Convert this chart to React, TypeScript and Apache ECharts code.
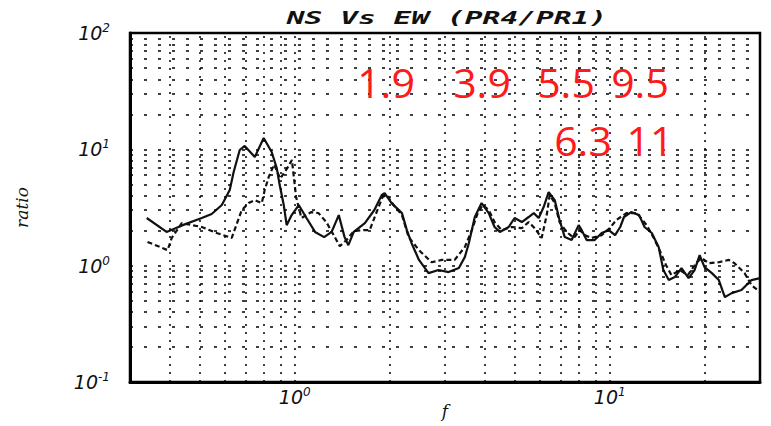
import React, { useEffect, useRef } from "react";
import * as echarts from "echarts";

// NS component spectral ratio (solid)
const nsFreq = [
  0.339, 0.392, 0.441, 0.507, 0.545, 0.587, 0.622, 0.64, 0.669, 0.694, 0.747, 0.797,
  0.845, 0.877, 0.896, 0.923, 0.943, 0.978, 1.03, 1.09, 1.16, 1.24, 1.31, 1.38, 1.44,
  1.48, 1.54, 1.67, 1.79, 1.89, 1.93, 2.03, 2.19, 2.27, 2.35, 2.48, 2.66, 2.86, 3.08,
  3.32, 3.47, 3.57, 3.73, 3.92, 4.13, 4.31, 4.48, 4.78, 4.99, 5.26, 5.53, 5.74, 5.95,
  6.17, 6.4, 6.69, 6.93, 7.2, 7.57, 7.97, 8.15, 8.45, 8.96, 9.43, 9.93, 10.4, 10.8,
  11.1, 11.7, 12.4, 12.9, 13.6, 14.3, 14.8, 15.4, 16.1, 16.9, 17.8, 18.6, 19.3, 20.0,
  21.1, 22.2, 23.2, 24.4, 26.2, 28.2, 30,
];
const nsRatio = [
  2.57, 1.95, 2.23, 2.57, 2.78, 3.32, 4.47, 6.38, 9.87, 10.7, 8.59, 12.5, 9.48, 6.9,
  4.93, 3.32, 2.23, 2.72, 3.32, 2.57, 1.95, 1.76, 1.95, 2.72, 1.76, 1.5, 1.95, 2.32,
  3.01, 4.05, 4.21, 3.45, 2.83, 2.02, 1.56, 1.12, 0.863, 0.917, 0.881, 0.954, 1.19,
  1.56, 2.62, 3.45, 2.83, 2.15, 1.95, 2.15, 2.57, 2.37, 2.62, 2.83, 2.57, 3.19, 4.29,
  3.66, 2.47, 1.76, 1.66, 2.23, 2.02, 1.66, 1.66, 1.91, 2.02, 1.83, 2.15, 2.62, 2.89,
  2.72, 2.15, 1.91, 1.45, 0.917, 0.752, 0.798, 0.954, 0.782, 0.917, 1.23, 0.973,
  0.863, 0.752, 0.537, 0.581, 0.617, 0.752, 0.782,
];

// EW component spectral ratio (dashed)
const ewFreq = [
  0.341, 0.395, 0.407, 0.438, 0.507, 0.565, 0.631, 0.679, 0.714, 0.747, 0.786, 0.803,
  0.827, 0.86, 0.9, 0.95, 0.98, 1.01, 1.05, 1.13, 1.19, 1.26, 1.33, 1.39, 1.46, 1.54,
  1.63, 1.73, 1.82, 1.9, 1.96, 2.06, 2.19, 2.3, 2.48, 2.72, 2.93, 3.22, 3.47, 3.65,
  3.81, 3.95, 4.13, 4.31, 4.54, 4.89, 5.26, 5.53, 5.78, 6.08, 6.31, 6.45, 6.69, 6.93,
  7.3, 7.69, 8.04, 8.33, 8.77, 9.43, 10.0, 10.5, 11.3, 12.2, 13.1, 13.8, 14.4, 15.1,
  15.7, 16.7, 17.7, 18.9, 19.6, 20.6, 22.2, 23.9, 24.9, 26.8, 28.2, 30,
];
const ewRatio = [
  1.6, 1.36, 1.73, 2.32, 2.15, 1.91, 1.73, 3.01, 3.45, 3.66, 3.45, 4.47, 5.78, 7.4,
  5.6, 7.0, 8.1, 3.9, 2.57, 2.89, 2.83, 2.37, 1.83, 1.47, 1.66, 1.98, 2.02, 2.02, 2.89,
  3.89, 4.05, 3.32, 2.72, 1.76, 1.36, 1.07, 1.12, 1.12, 1.45, 2.02, 2.83, 3.32, 3.01,
  2.37, 2.02, 2.15, 2.1, 2.37, 2.1, 1.73, 2.72, 4.05, 3.45, 2.37, 1.95, 1.73, 2.02,
  1.83, 1.73, 1.83, 2.1, 2.47, 2.83, 2.83, 2.23, 1.73, 1.36, 1.01, 0.83, 0.917, 0.83,
  1.07, 1.16, 1.05, 1.07, 1.12, 1.05, 0.863, 0.68, 0.593,
];

// Log grid values (2..9 of every decade)
const xGridValues = [0.4, 0.5, 0.6, 0.7, 0.8, 0.9, 1, 2, 3, 4, 5, 6, 7, 8, 9, 10, 20];
const yGridValues = [
  0.2, 0.3, 0.4, 0.5, 0.6, 0.7, 0.8, 0.9, 1, 2, 3, 4, 5, 6, 7, 8, 9, 10, 20, 30, 40, 50,
  60, 70, 80, 90,
];

// Peak frequency annotations
const peakRowTop = ["1.9", "3.9", "5.5", "9.5"];
const peakRowBottom = ["6.3", "11"];

const titleText = "NS Vs EW (PR4/PR1)";

const pairs = (xs: number[], ys: number[]) => xs.map((x, i) => [x, ys[i]]);

const powerLabel = (v: number) => {
  const l = Math.log10(v);
  const e = Math.round(l);
  if (Math.abs(l - e) > 1e-6) return "";
  return `{b|10}{s|${e}}`;
};

const labelRich = {
  b: {
    fontFamily: "DejaVu Sans",
    fontStyle: "italic",
    fontSize: 19,
    color: "#111",
    lineHeight: 22,
  },
  s: {
    fontFamily: "DejaVu Sans",
    fontStyle: "italic",
    fontSize: 12,
    color: "#111",
    verticalAlign: "top",
    lineHeight: 12,
  },
};

export default function App() {
  const ref = useRef<HTMLDivElement>(null);

  useEffect(() => {
    if (!ref.current) return;
    const chart = echarts.init(ref.current, undefined, { renderer: "svg" });

    const gridLines = [
      ...xGridValues.map((v) => ({
        xAxis: v,
        lineStyle: { type: [2, 6], color: "#000", width: 1.5 },
      })),
      ...yGridValues.map((v) => ({
        yAxis: v,
        lineStyle: { type: [3, 11], color: "#000", width: 1.5 },
      })),
    ];

    const topCenters = [386, 482, 566, 640];
    const bottomCenters = [583, 650];
    const peakStyle = {
      fill: "#ff1a1a",
      fontFamily: "Open Sans",
      fontSize: 41,
      align: "center",
      verticalAlign: "middle",
    };

    chart.setOption({
      animation: false,
      backgroundColor: "#fff",
      grid: {
        left: 130,
        right: 11,
        top: 33,
        bottom: 44,
        containLabel: false,
        outerBoundsMode: "none",
        show: true,
        borderColor: "#000",
        borderWidth: 2.5,
      },
      xAxis: {
        type: "log",
        logBase: 10,
        min: 0.3,
        max: 30,
        axisLine: { show: true, lineStyle: { color: "#000", width: 3 } },
        axisTick: { show: false },
        splitLine: { show: false },
        axisLabel: { formatter: powerLabel, rich: labelRich, margin: 4 },
        name: "f",
        nameLocation: "middle",
        nameGap: 20,
        nameMoveOverlap: false,
        nameTextStyle: {
          fontFamily: "DejaVu Serif",
          fontStyle: "italic",
          fontSize: 17,
          lineHeight: 17,
          color: "#111",
        },
      },
      yAxis: {
        type: "log",
        logBase: 10,
        min: 0.1,
        max: 100,
        axisLine: { show: true, lineStyle: { color: "#000", width: 3 } },
        axisTick: { show: false },
        splitLine: { show: false },
        axisLabel: { formatter: powerLabel, rich: labelRich, margin: 20 },
        name: "ratio",
        nameLocation: "middle",
        nameGap: 100,
        nameMoveOverlap: false,
        nameRotate: 90,
        nameTextStyle: {
          fontFamily: "DejaVu Serif",
          fontStyle: "italic",
          fontSize: 17,
          color: "#111",
        },
      },
      series: [
        {
          name: "NS",
          type: "line",
          data: pairs(nsFreq, nsRatio),
          symbol: "none",
          lineStyle: { color: "#111", width: 2.2 },
          markLine: {
            silent: true,
            symbol: ["none", "none"],
            label: { show: false },
            data: gridLines,
          },
          z: 3,
        },
        {
          name: "EW",
          type: "line",
          data: pairs(ewFreq, ewRatio),
          symbol: "none",
          lineStyle: { color: "#111", width: 2.2, type: [5, 3] },
          z: 3,
        },
      ],
      graphic: [
        {
          type: "text",
          x: 447,
          y: 18,
          scaleX: 1.74,
          style: {
            text: titleText,
            fontFamily: "DejaVu Sans Mono",
            fontStyle: "italic",
            fontWeight: "bold",
            fontSize: 17,
            fill: "#111",
            align: "center",
            verticalAlign: "middle",
          },
        },
        ...peakRowTop.map((t, i) => ({
          type: "text",
          x: topCenters[i],
          y: 82,
          z: 10,
          style: { ...peakStyle, text: t },
        })),
        ...peakRowBottom.map((t, i) => ({
          type: "text",
          x: bottomCenters[i],
          y: 140,
          z: 10,
          style: { ...peakStyle, text: t },
        })),
      ],
    });

    return () => chart.dispose();
  }, []);

  return (
    <div
      ref={ref}
      style={{ position: "fixed", left: 0, top: 0, width: 771, height: 426 }}
    />
  );
}
